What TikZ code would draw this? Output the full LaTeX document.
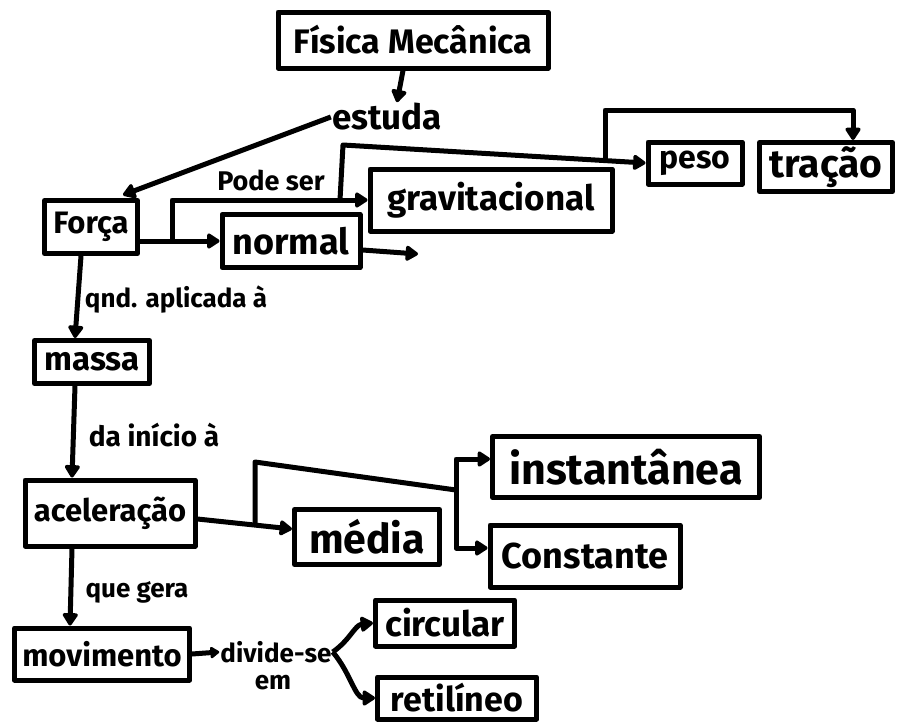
\documentclass[tikz,border=0pt]{standalone}
\usepackage{fontspec}
\setmainfont{Fira Sans}
\usetikzlibrary{arrows.meta}
\newcommand\fsz[1]{\fontsize{#1}{#1}\selectfont\bfseries}
\begin{document}
\begin{tikzpicture}[x=1pt,y=-1pt,
  box/.style={draw, line width=5pt, inner sep=0pt, line join=round},
  lbl/.style={inner sep=1pt},
  lnk/.style={line width=5pt, line join=round},
  arr/.style={lnk, -{Triangle[length=14pt,width=17pt,round]}},
  smallarr/.style={lnk, -{Triangle[length=10pt,width=13pt,round]}}]
\useasboundingbox (0,0) rectangle (900,723);

% concept boxes
\node[box, minimum width=270pt, minimum height=56pt, font=\fsz{34}] (fis) at (413,40) {Física Mecânica};
\node[box, minimum width=93pt, minimum height=53pt, font=\fsz{31}] (forca) at (91,227) {Força};
\node[box, minimum width=242pt, minimum height=62pt, font=\fsz{35}] (grav) at (491,200) {gravitacional};
\node[box, minimum width=138pt, minimum height=53pt, font=\fsz{36}] (normal) at (291,241) {normal};
\node[box, minimum width=94pt, minimum height=42pt, font=\fsz{32}] (peso) at (695,163) {peso};
\node[box, minimum width=133pt, minimum height=49pt, font=\fsz{39}] (tracao) at (826,167) {tração};
\node[box, minimum width=115pt, minimum height=43pt, font=\fsz{33}] (massa) at (92,362) {massa};
\node[box, minimum width=170pt, minimum height=66pt, font=\fsz{31}] (acel) at (110,513) {aceleração};
\node[box, minimum width=145pt, minimum height=55pt, font=\fsz{41}] (media) at (367,537) {média};
\node[box, minimum width=267pt, minimum height=61pt, font=\fsz{43}] (inst) at (626,467) {instantânea};
\node[box, minimum width=190pt, minimum height=62pt, font=\fsz{36}] (const) at (585,556) {Constante};
\node[box, minimum width=175pt, minimum height=52pt, font=\fsz{31}] (mov) at (102,654) {movimento};
\node[box, minimum width=139pt, minimum height=46pt, font=\fsz{35}] (circ) at (445,623) {circular};
\node[box, minimum width=159pt, minimum height=42pt, font=\fsz{34}] (retil) at (457,698) {retilíneo};

% linking words
\node[lbl, font=\fsz{35}] (estuda) at (387,117) {estuda};
\node[lbl, font=\fsz{27}] (podeser) at (271,180) {Pode ser};
\node[lbl, font=\fsz{26}] (aplicada) at (176,300) {qnd. aplicada à};
\node[lbl, font=\fsz{28}] (inicio) at (154,435) {da início à};
\node[lbl, font=\fsz{26}] (gera) at (137,592) {que gera};
\node[lbl, font=\fsz{26}] (div) at (276,652) {divide-se};
\node[lbl, font=\fsz{26}] (em) at (273,683) {em};

% junction points
\coordinate (b1) at (172,241);
\coordinate (b2) at (340,200);
\coordinate (b2top) at (343,145);
\coordinate (b3) at (605,160);
\coordinate (b4) at (255,525);
\coordinate (b4top) at (255,462);
\coordinate (b5) at (456,490);
\coordinate (nend) at (418,254);

% connectors
\draw[arr] ([xshift=-10pt]fis.south) -- ([xshift=10pt]estuda.north);
\draw[arr] (estuda.west) -- ([xshift=32pt,yshift=3pt]forca.north);
\draw[arr] (forca.east |- normal.west) -- (normal.west);
\draw[arr] (b1) |- (grav.west);
\draw[arr] (b2) -- (b2top) -- (peso.west);
\draw[arr] (b3) -- ++(0,-50) -| ([xshift=27pt]tracao.north);
\draw[arr] ([yshift=-9pt]normal.east) -- (nend);
\draw[arr] ([xshift=-10pt]forca.south) -- ([xshift=-17pt]massa.north);
\draw[arr] ([xshift=-17pt]massa.south) -- ([xshift=-38pt]acel.north);
\draw[arr] ([xshift=-38pt]acel.south) -- ([xshift=-32pt]mov.north);
\draw[arr] ([yshift=-6pt]acel.east) -- ([yshift=8pt]media.west);
\draw[lnk] (b4) -- (b4top) -- (b5);
\draw[arr] (b5) |- ([yshift=8pt]inst.west);
\draw[arr] (b5) |- ([yshift=8pt]const.west);
\draw[smallarr] (mov.east) -- (div.west);
\draw[arr] (div.east) .. controls (350,640) and (355,625) .. (circ.west);
\draw[arr] (div.east) .. controls (350,672) and (355,698) .. (retil.west);
\end{tikzpicture}
\end{document}
